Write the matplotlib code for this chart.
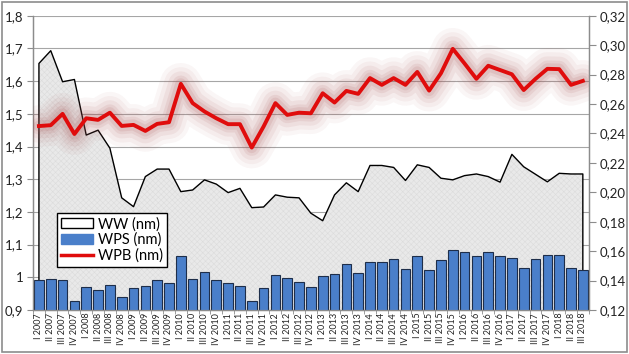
import numpy as np
import matplotlib
matplotlib.use("Agg")
import matplotlib.pyplot as plt
from matplotlib.patches import Rectangle, Patch
from matplotlib.lines import Line2D
from matplotlib.ticker import FuncFormatter, FixedLocator

plt.rcParams['font.family'] = ['Lato', 'DejaVu Sans']
plt.rcParams['hatch.linewidth'] = 0.4

# kwartaly I 2007 .. III 2018
roman = ['I', 'II', 'III', 'IV']
quarters = [f"{roman[q]} {y}" for y in range(2007, 2019) for q in range(4)][:47]

ww = [1.654, 1.693, 1.598, 1.605, 1.435, 1.450, 1.395, 1.243, 1.216, 1.308,
      1.331, 1.331, 1.262, 1.267, 1.298, 1.285, 1.259, 1.272, 1.213, 1.215,
      1.252, 1.245, 1.243, 1.196, 1.173, 1.252, 1.289, 1.262, 1.342, 1.342,
      1.336, 1.296, 1.344, 1.336, 1.303, 1.298, 1.311, 1.316, 1.308, 1.291,
      1.376, 1.338, 1.315, 1.292, 1.318, 1.316, 1.316]

wps = [0.1404, 0.1409, 0.1402, 0.1261, 0.1354, 0.1338, 0.1370, 0.1286, 0.1347, 0.1365,
       0.1406, 0.1384, 0.1565, 0.1411, 0.1458, 0.1402, 0.1384, 0.1365, 0.1261, 0.1347,
       0.1438, 0.1418, 0.1392, 0.1354, 0.1433, 0.1445, 0.1513, 0.1452, 0.1524, 0.1526,
       0.1547, 0.1479, 0.1567, 0.1474, 0.1540, 0.1608, 0.1594, 0.1565, 0.1592, 0.1569,
       0.1551, 0.1488, 0.1547, 0.1574, 0.1574, 0.1484, 0.1470]

wpb = [0.2450, 0.2456, 0.2533, 0.2396, 0.2503, 0.2492, 0.2541, 0.2451, 0.2458, 0.2417,
       0.2465, 0.2476, 0.2737, 0.2606, 0.2549, 0.2503, 0.2463, 0.2463, 0.2304, 0.2447,
       0.2606, 0.2526, 0.2541, 0.2537, 0.2673, 0.2610, 0.2689, 0.2669, 0.2776, 0.2730,
       0.2776, 0.2730, 0.2818, 0.2691, 0.2809, 0.2975, 0.2875, 0.2771, 0.2860, 0.2831,
       0.2802, 0.2695, 0.2771, 0.2839, 0.2837, 0.2730, 0.2757]

x = np.arange(len(quarters))

fig = plt.figure(figsize=(6.29, 3.54), dpi=100)
ax = fig.add_axes([0.0525, 0.1243, 0.8835, 0.8313])
ax2 = ax.twinx()

# WW - pole
ax.set_axisbelow(True)
ax.yaxis.grid(True, color='#a6a6a6', lw=0.8)
ax.fill_between(x, ww, 0.9, facecolor='#e9e9e9', edgecolor='#dcdcdc',
                hatch='xxxxxx', linewidth=0, zorder=2)
ax.plot(np.r_[x[0], x, x[-1]], np.r_[0.9, ww, 0.9], color='black', lw=1, zorder=3)
ax.set_ylim(0.9, 1.8)
ax.set_xlim(-0.5, len(x) - 0.5)
ax.yaxis.set_major_locator(FixedLocator(np.arange(0.9, 1.81, 0.1)))
ax.yaxis.set_major_formatter(FuncFormatter(
    lambda v, p: "1" if abs(v - 1) < 1e-6 else f"{v:.1f}".replace('.', ',')))

# WPS - slupki, WPB - linia z poswiata
ax2.bar(x, wps, width=0.82, bottom=0, color='#4a7fca', edgecolor='#1e2e4a', lw=0.8, zorder=2)
for lw_, a in [(30, 0.05), (24, 0.06), (18, 0.08), (12, 0.1), (8, 0.12)]:
    ax2.plot(x, wpb, color='#a85050', lw=lw_, alpha=a, solid_capstyle='round',
             solid_joinstyle='round', zorder=3)
ax2.plot(x, wpb, color='#e00c0c', lw=2.8, zorder=4)
ax2.set_ylim(0.12, 0.32)
ax2.yaxis.set_major_locator(FixedLocator(np.arange(0.12, 0.321, 0.02)))
ax2.yaxis.set_major_formatter(FuncFormatter(lambda v, p: f"{v:.2f}".replace('.', ',')))

for a in (ax, ax2):
    a.spines['top'].set_visible(False)
    for s in ('left', 'right', 'bottom'):
        a.spines[s].set_color('#8c8c8c')
        a.spines[s].set_linewidth(0.9)
ax.tick_params(axis='y', length=4, color='#8c8c8c', labelsize=9.5, pad=3, labelcolor='#222222')
ax2.tick_params(axis='y', length=5, color='#8c8c8c', labelsize=9.5, pad=3, labelcolor='#222222')
ax.set_xticks(x)
ax.set_xticklabels(quarters, rotation=90, fontsize=6.5, color='#222222')
ax.tick_params(axis='x', length=0, pad=2)
ax.set_xticks(np.arange(-0.5, len(x), 1), minor=True)
ax.tick_params(axis='x', which='minor', length=3, color='#8c8c8c')

# legenda
handles = [Patch(facecolor='white', edgecolor='black', lw=1),
           Patch(facecolor='#4a7fca', edgecolor='#4a7fca'),
           Line2D([], [], color='#e00c0c', lw=2.5)]
leg = ax2.legend(handles, ['WW (nm)', 'WPS (nm)', 'WPB (nm)'], loc='upper left',
                 bbox_to_anchor=(0.043, 0.331), borderaxespad=0, fontsize=10.5,
                 fancybox=False, framealpha=1, edgecolor='black',
                 handlelength=2.2, handleheight=0.7, labelspacing=0.1,
                 borderpad=0.3, handletextpad=0.3)
leg.get_frame().set_linewidth(1)
leg.set_zorder(10)

fig.patches.append(Rectangle((0.003, 0.005), 0.994, 0.99, transform=fig.transFigure,
                             fill=False, edgecolor='#8c8c8c', lw=1.2))

fig.savefig('out.png', dpi=100)
